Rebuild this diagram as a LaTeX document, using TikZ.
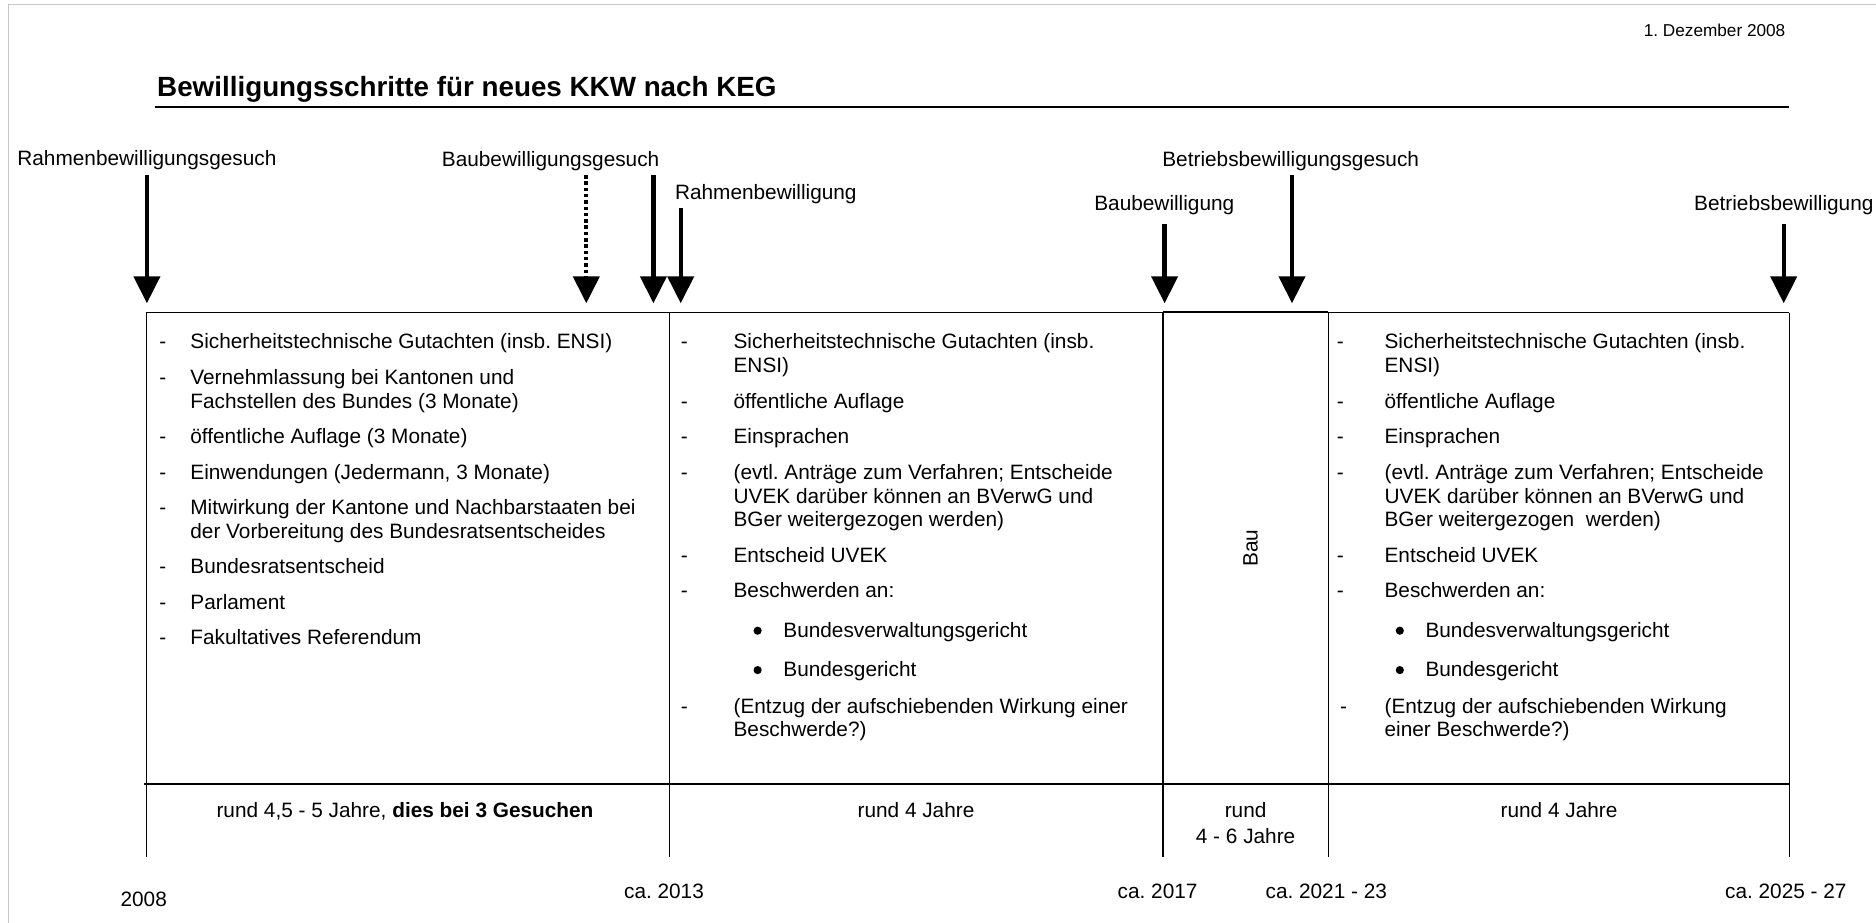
\documentclass[tikz,border=0pt]{standalone}
\usepackage{fontspec}
\setmainfont{Liberation Sans}
\usetikzlibrary{arrows.meta}
\frenchspacing
\newcommand\bodyfont{\fontsize{20.8}{24.3}\selectfont\frenchspacing}
\newcommand\titlefont{\fontsize{27.8}{32}\selectfont\bfseries}
\newcommand\datefont{\fontsize{17.2}{20}\selectfont\frenchspacing}
% item with dash: name, dash x, text x, baseline y, text
\newcommand\itm[5]{\node[txt] (#1d) at (#2,#4) {-};\node[txt] (#1) at (#3,#4) {#5};}
% continuation line: name, x, y, text
\newcommand\cln[4]{\node[txt] (#1) at (#2,#3) {#4};}
% bullet item: name, bullet centre x, text x, baseline y, text
\newcommand\bitm[5]{\node[bul] (#1d) at (#2,#4-6.6) {};\node[txt] (#1) at (#3,#4) {#5};}
\begin{document}
\begin{tikzpicture}[x=1pt,y=-1pt,
  txt/.style={inner sep=0pt,outer sep=0pt,font=\bodyfont,anchor=base west},
  ctxt/.style={inner sep=0pt,outer sep=0pt,font=\bodyfont,anchor=base},
  bul/.style={circle,fill=black,inner sep=0pt,minimum size=8.2pt},
  boxline/.style={line width=1.3pt},
  marker/.style={line width=4.3pt,-{Triangle[width=26pt,length=27pt]}},
  dmarker/.style={marker,dash pattern=on 3.5pt off 2.8pt},
  frame/.style={line width=1.3pt,draw=black!22},
]
\useasboundingbox (0,0) rectangle (1876,923);
\fill[white] (0,0) rectangle (1876,923);
\draw[frame] (8.7,923) -- (8.7,4.7) -- (1876,4.7);

% header
\node[inner sep=0pt,font=\datefont,anchor=base east] (date) at (1785.5,36.7) {1. Dezember 2008};
\node[inner sep=0pt,font=\titlefont,anchor=base west] (title) at (157,96.7) {Bewilligungsschritte für neues KKW nach KEG};
\draw[line width=1.7pt] (154.7,106.7) -- (1789.3,106.7);

% labels and arrows
\node[ctxt] (l1) at (146.9,165) {Rahmenbewilligungsgesuch};
\node[ctxt] (l2) at (550.6,166) {Baubewilligungsgesuch};
\node[ctxt] (l3) at (765.8,199.5) {Rahmenbewilligung};
\node[ctxt] (l4) at (1164.3,210) {Baubewilligung};
\node[ctxt] (l5) at (1290.7,166) {Betriebsbewilligungsgesuch};
\node[ctxt] (l6) at (1783.8,210) {Betriebsbewilligung};

\coordinate (a1s) at (146.9,175);   \coordinate (a1e) at (146.9,303.3);
\coordinate (a2s) at (586.3,175);   \coordinate (a2e) at (586.3,303.3);
\coordinate (a3s) at (653.4,175);   \coordinate (a3e) at (653.4,303.3);
\coordinate (a4s) at (680.7,208.3); \coordinate (a4e) at (680.7,303.3);
\coordinate (a5s) at (1164.6,224);  \coordinate (a5e) at (1164.6,303.3);
\coordinate (a6s) at (1292,175);    \coordinate (a6e) at (1292,303.3);
\coordinate (a7s) at (1783.7,224);  \coordinate (a7e) at (1783.7,303.3);
\draw[marker] (a1s) -- (a1e);
\draw[dmarker] (a2s) -- (a2e);
\draw[marker] (a3s) -- (a3e);
\draw[marker] (a4s) -- (a4e);
\draw[marker] (a5s) -- (a5e);
\draw[marker] (a6s) -- (a6e);
\draw[marker] (a7s) -- (a7e);

% table frame
\def\xA{146.7}\def\xB{669.3}\def\xC{1163}\def\xD{1328.2}\def\xE{1789.3}
\def\yT{312.7}\def\yM{784}\def\yB{856.7}
\draw[boxline] (\xA-1,\yT) -- (\xE,\yT);
\draw[line width=2.3pt] (\xC,312.1) -- (\xD,312.1);
\foreach \xx in {\xA,\xB,\xC,\xD,\xE} \draw[boxline] (\xx,\yT) -- (\xx,\yB);
\draw[line width=2.3pt] (\xA-2.5,\yM) -- (\xE,\yM);

% column 1
\itm{a1}{159.4}{190.4}{348.5}{Sicherheitstechnische Gutachten (insb. ENSI)}
\itm{a2}{159.4}{190.4}{384}{Vernehmlassung bei Kantonen und}
\cln{a2b}{190.4}{408.3}{Fachstellen des Bundes (3 Monate)}
\itm{a3}{159.4}{190.4}{443.3}{öffentliche Auflage (3 Monate)}
\itm{a4}{159.4}{190.4}{479.3}{Einwendungen (Jedermann, 3 Monate)}
\itm{a5}{159.4}{190.4}{514}{Mitwirkung der Kantone und Nachbarstaaten bei}
\cln{a5b}{190.4}{538.3}{der Vorbereitung des Bundesratsentscheides}
\itm{a6}{159.4}{190.4}{573.3}{Bundesratsentscheid}
\itm{a7}{159.4}{190.4}{609.3}{Parlament}
\itm{a8}{159.4}{190.4}{644}{Fakultatives Referendum}

% column 2
\itm{b1}{680.8}{733.6}{348.7}{Sicherheitstechnische Gutachten (insb.}
\cln{b1b}{733.6}{372.7}{ENSI)}
\itm{b2}{680.8}{733.6}{408.3}{öffentliche Auflage}
\itm{b3}{680.8}{733.6}{443.3}{Einsprachen}
\itm{b4}{680.8}{733.6}{479.3}{(evtl. Anträge zum Verfahren; Entscheide}
\cln{b4b}{733.6}{503.3}{UVEK darüber können an BVerwG und}
\cln{b4c}{733.6}{526.7}{BGer weitergezogen werden)}
\itm{b5}{680.8}{733.6}{562.3}{Entscheid UVEK}
\itm{b6}{680.8}{733.6}{597.3}{Beschwerden an:}
\bitm{b7}{757.6}{783.4}{637.3}{Bundesverwaltungsgericht}
\bitm{b8}{757.6}{783.4}{676.7}{Bundesgericht}
\itm{b9}{680.8}{733.6}{713.3}{(Entzug der aufschiebenden Wirkung einer}
\cln{b9b}{733.6}{736.7}{Beschwerde?)}

% column 3
\node[inner sep=0pt,font=\bodyfont,rotate=90,anchor=base] (bau) at (1257.6,548.3) {Bau};

% column 4
\itm{c1}{1336.8}{1384.6}{348.7}{Sicherheitstechnische Gutachten (insb.}
\cln{c1b}{1384.6}{372.7}{ENSI)}
\itm{c2}{1336.8}{1384.6}{408.3}{öffentliche Auflage}
\itm{c3}{1336.8}{1384.6}{443.3}{Einsprachen}
\itm{c4}{1336.8}{1384.6}{479.3}{(evtl. Anträge zum Verfahren; Entscheide}
\cln{c4b}{1384.6}{503.3}{UVEK darüber können an BVerwG und}
\cln{c4c}{1384.6}{526.7}{BGer weitergezogen\ \ werden)}
\itm{c5}{1336.8}{1384.6}{562.3}{Entscheid UVEK}
\itm{c6}{1336.8}{1384.6}{597.3}{Beschwerden an:}
\bitm{c7}{1399.8}{1425.5}{637.3}{Bundesverwaltungsgericht}
\bitm{c8}{1399.8}{1425.5}{676.7}{Bundesgericht}
\itm{c9}{1340.1}{1384.6}{713.3}{(Entzug der aufschiebenden Wirkung}
\cln{c9b}{1384.6}{736.7}{einer Beschwerde?)}

% durations
\node[ctxt] (d1) at (405,817) {rund 4,5 - 5 Jahre, \textbf{dies bei 3 Gesuchen}};
\node[ctxt] (d2) at (916,817) {rund 4 Jahre};
\node[ctxt] (d3) at (1245.6,817) {rund};
\node[ctxt] (d3b) at (1245.6,843.3) {4 - 6 Jahre};
\node[ctxt] (d4) at (1559,817) {rund 4 Jahre};

% years
\node[ctxt] (y1) at (143.7,906.7) {2008};
\node[ctxt] (y2) at (664,898.3) {ca. 2013};
\node[ctxt] (y3) at (1157.6,898.3) {ca. 2017};
\node[ctxt] (y4) at (1326.3,898.3) {ca. 2021 - 23};
\node[ctxt] (y5) at (1785.8,898.3) {ca. 2025 - 27};
\end{tikzpicture}
\end{document}
